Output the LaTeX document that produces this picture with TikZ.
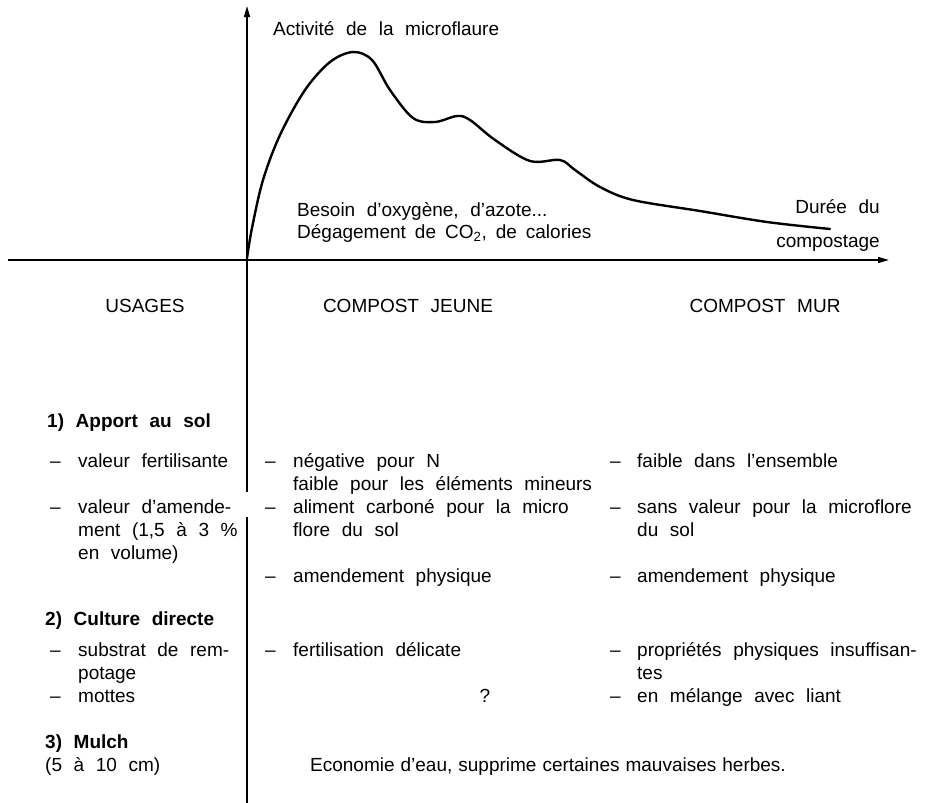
\documentclass[tikz,border=0pt]{standalone}
\usepackage{fontspec}
\setmainfont[WordSpace=2.2]{Liberation Sans}
\usetikzlibrary{arrows.meta}
\begin{document}
\begin{tikzpicture}[x=1pt,y=-1pt,
  axisline/.style={line width=1.6pt},
  curveline/.style={line width=2.4pt, line join=round, line cap=round},
  tip/.style={-{Triangle[length=11pt,width=6pt]}},
  t/.style={anchor=base west, inner sep=0pt, font=\fontsize{19}{23}\selectfont},
  tc/.style={t, anchor=base},
  te/.style={t, anchor=base east},
  hd/.style={t, font=\fontsize{19}{23}\selectfont\bfseries}]
\useasboundingbox (0,0) rectangle (930,803);
% axes
\coordinate (O) at (247,260);
\coordinate (ytop) at (247,6);
\coordinate (g1) at (247,492);
\coordinate (g2) at (247,517);
\coordinate (ybot) at (247,803);
\coordinate (xl) at (8,260);
\coordinate (xr) at (889,260);
\draw[axisline,tip] (xl) -- (xr);
\draw[axisline,tip] (g1) -- (ytop);
\draw[axisline] (g2) -- (ybot);
% curve
\draw[curveline] plot[smooth, tension=0.55] coordinates {(247,258) (252,228) (263,180) (280,135) (305,90) (330,62) (353,52) (372,60) (390,90) (413,118) (435,122) (457,116) (470,120) (495,140) (530,161) (560,160) (575,170) (600,187) (633,200) (700,211) (767,222) (830,229)};
% graph labels
\node[t] (act) at (273,35) {Activité de la microflaure};
\node[t] (bes) at (297,216) {Besoin d’oxygène, d’azote...};
\node[t] (deg) at (297,238) {\spaceskip=9pt plus 1pt minus 1pt Dégagement de CO\textsubscript{2}, de calories};
\node[te] (dur) at (880,213) {Durée du};
\node[te] (comp) at (880,247) {compostage};
% column heads
\node[tc] (usa) at (145,312) {USAGES};
\node[tc] (cj) at (408,312) {COMPOST JEUNE};
\node[tc] (cm) at (765,312) {COMPOST MUR};
% 1) Apport au sol
\node[hd] (h1) at (47,427) {1) Apport au sol};
\node[t] (d1) at (50,467) {–};
\node[t] (l1) at (78,467) {valeur fertilisante};
\node[t] (d2) at (50,513) {–};
\node[t] (l2) at (78,513) {valeur d’amende-};
\node[t] (l3) at (78,536) {ment (1,5 à 3 \%};
\node[t] (l4) at (78,559) {en volume)};
\node[t] (d3) at (265,467) {–};
\node[t] (m1) at (293,467) {négative pour N};
\node[t] (m2) at (293,490) {faible pour les éléments mineurs};
\node[t] (d4) at (265,513) {–};
\node[t] (m3) at (293,513) {aliment carboné pour la micro};
\node[t] (m4) at (293,536) {flore du sol};
\node[t] (d5) at (265,582) {–};
\node[t] (m5) at (293,582) {amendement physique};
\node[t] (d6) at (610,467) {–};
\node[t] (r1) at (637,467) {faible dans l’ensemble};
\node[t] (d7) at (610,513) {–};
\node[t] (r2) at (637,513) {sans valeur pour la microflore};
\node[t] (r3) at (637,536) {du sol};
\node[t] (d8) at (610,582) {–};
\node[t] (r4) at (637,582) {amendement physique};
% 2) Culture directe
\node[hd] (h2) at (45,625) {2) Culture directe};
\node[t] (d9) at (50,656) {–};
\node[t] (l5) at (78,656) {substrat de rem-};
\node[t] (l6) at (78,679) {potage};
\node[t] (d10) at (50,702) {–};
\node[t] (l7) at (78,702) {mottes};
\node[t] (d11) at (265,656) {–};
\node[t] (m6) at (293,656) {fertilisation délicate};
\node[tc] (q) at (485,702) {?};
\node[t] (d12) at (610,656) {–};
\node[t] (r5) at (637,656) {propriétés physiques insuffisan-};
\node[t] (r6) at (637,679) {tes};
\node[t] (d13) at (610,702) {–};
\node[t] (r7) at (637,702) {en mélange avec liant};
% 3) Mulch
\node[hd] (h3) at (45,748) {3) Mulch};
\node[t] (l8) at (45,771) {(5 à 10 cm)};
\node[tc] (eco) at (548,771) {\spaceskip=6pt plus 1pt minus 1pt Economie d’eau, supprime certaines mauvaises herbes.};
\end{tikzpicture}
\end{document}
